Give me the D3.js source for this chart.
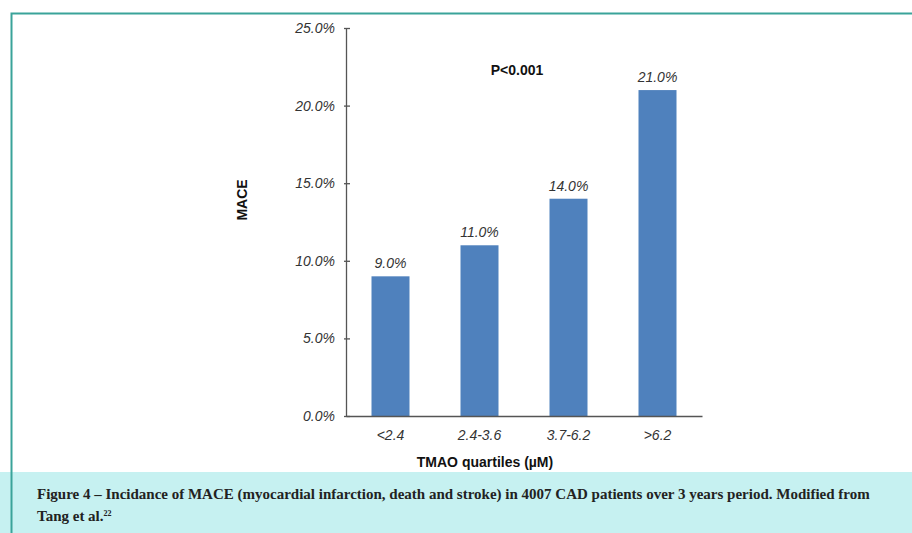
<!DOCTYPE html>
<html>
<head>
<meta charset="utf-8">
<script src="https://cdn.jsdelivr.net/npm/d3@7"></script>
<style>
  body { margin: 0; background: #fff; }
  svg { display: block; }
  .tick text { font-family: "Liberation Sans", Arial, sans-serif; font-style: italic; font-size: 14px; fill: #333; }
</style>
</head>
<body>
<div id="graf"></div>
<script>
// Datos
const categorias = ["<2.4", "2.4-3.6", "3.7-6.2", ">6.2"]
const valores = [9.0, 11.0, 14.0, 21.0]
const yTicks = [0, 5, 10, 15, 20, 25]

// Dimensiones
const anchoTotal = 912
const altoTotal = 533
const margins = { top: 28, left: 346, right: 210, bottom: 117 }
const ancho = anchoTotal - margins.left - margins.right
const alto = altoTotal - margins.top - margins.bottom

const svg = d3.select("#graf")
  .append("svg")
  .attr("width", anchoTotal)
  .attr("height", altoTotal)

// Marco y pie de figura
svg.append("rect")
  .attr("x", 0).attr("y", 472)
  .attr("width", anchoTotal).attr("height", 61)
  .attr("fill", "#c6f1f1")

svg.append("path")
  .attr("d", `M11.5,${altoTotal} V13.5 H${anchoTotal}`)
  .attr("fill", "none")
  .attr("stroke", "#3aa39a")
  .attr("stroke-width", 2)

const g = svg.append("g")
  .attr("transform", `translate(${margins.left}, ${margins.top})`)

// Escaladores
const y = d3.scaleLinear().domain([0, 25]).range([alto, 0])
const x = d3.scaleBand().domain(categorias).range([0, ancho])
  .paddingInner(0.573).paddingOuter(0.2865)

// Barras
g.selectAll("rect.bar")
  .data(valores)
  .enter()
  .append("rect")
  .attr("class", "bar")
  .attr("x", (d, i) => x(categorias[i]))
  .attr("y", (d) => y(d))
  .attr("width", x.bandwidth())
  .attr("height", (d) => alto - y(d))
  .attr("fill", "#4f81bd")

g.selectAll("text.et")
  .data(valores)
  .enter()
  .append("text")
  .attr("class", "et")
  .attr("x", (d, i) => x(categorias[i]) + x.bandwidth() / 2)
  .attr("y", (d) => y(d) - 8)
  .attr("text-anchor", "middle")
  .style("font-family", "Liberation Sans, Arial, sans-serif")
  .style("font-style", "italic")
  .style("font-size", "14px")
  .style("fill", "#333")
  .text((d) => d.toFixed(1) + "%")

// Ejes
const yAxis = d3.axisLeft(y).tickValues(yTicks).tickSize(0).tickPadding(11)
  .tickFormat((d) => d.toFixed(1) + "%")
const yAxisGroup = g.append("g").call(yAxis)
yAxisGroup.select(".domain").attr("stroke", "#555").attr("stroke-width", 1.3)
yAxisGroup.selectAll(".tick").append("line")
  .attr("x1", -2).attr("x2", 4)
  .attr("stroke", "#555").attr("stroke-width", 1.3)

const xAxis = d3.axisBottom(x).tickSize(0).tickPadding(14)
const xAxisGroup = g.append("g").attr("transform", `translate(0, ${alto})`).call(xAxis)
xAxisGroup.select(".domain").attr("stroke", "#555").attr("stroke-width", 1.3)

// Títulos
g.append("text")
  .attr("x", 139)
  .attr("y", alto + 51)
  .attr("text-anchor", "middle")
  .style("font-family", "Liberation Sans, Arial, sans-serif")
  .style("font-weight", "bold")
  .style("font-size", "14px")
  .style("fill", "#111")
  .text("TMAO quartiles (\u00b5M)")

g.append("text")
  .attr("transform", `translate(-99, 172) rotate(-90)`)
  .attr("text-anchor", "middle")
  .style("font-family", "Liberation Sans, Arial, sans-serif")
  .style("font-weight", "bold")
  .style("font-size", "14px")
  .style("fill", "#111")
  .text("MACE")

g.append("text")
  .attr("x", 171)
  .attr("y", 47)
  .attr("text-anchor", "middle")
  .style("font-family", "Liberation Sans, Arial, sans-serif")
  .style("font-weight", "bold")
  .style("font-size", "14px")
  .style("fill", "#111")
  .text("P<0.001")

// Pie
const pie = svg.append("text")
  .style("font-family", "Liberation Serif, 'DejaVu Serif', serif")
  .style("font-weight", "bold")
  .style("font-size", "15px")
  .style("fill", "#222")
pie.append("tspan").attr("x", 37).attr("y", 499)
  .text("Figure 4 \u2013 Incidance of MACE (myocardial infarction, death and stroke) in 4007 CAD patients over 3 years period. Modified from")
pie.append("tspan").attr("x", 37).attr("y", 521).text("Tang et al.")
pie.append("tspan").attr("dy", -5).style("font-size", "8px").text("22")
</script>
</body>
</html>
